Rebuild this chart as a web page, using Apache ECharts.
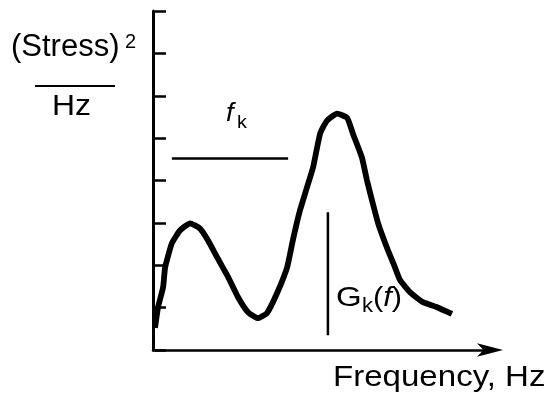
<!DOCTYPE html>
<html>
<head>
<meta charset="utf-8">
<style>html,body{margin:0;padding:0;background:#fff;}#c{width:549px;height:397px;}</style>
<script src="https://cdn.jsdelivr.net/npm/echarts@6/dist/echarts.min.js"></script>
</head>
<body>
<div id="c"></div>
<script>
// Spectrum curve (frequency in 0-100 units, PSD in tick units 0-8)
const freq = [0.6,1.5,3.0,3.6,5.6,8.0,11.0,13.9,16.3,19.0,22.3,25.2,28.2,31.2,33.8,36.8,39.8,41.5,43.6,45.7,47.5,49.6,51.6,54.6,57.6,59.3,62.0,63.5,65.0,66.8,69.4,71.8,73.3,76.3,80.1,84.3,88.7];
const psd  = [0.52,1.01,1.48,1.95,2.52,2.82,2.99,2.87,2.59,2.19,1.72,1.25,0.89,0.75,0.87,1.34,1.95,2.59,3.29,3.84,4.31,5.11,5.41,5.58,5.48,5.11,4.54,4.00,3.53,2.99,2.42,1.95,1.65,1.36,1.13,1.01,0.85];
// Band width f_k marker (horizontal) and G_k(f) marker (vertical)
const bandX = [5.6, 40.1];
const bandY = 4.52;
const gkX = 51.9;
const gkY = [0.35, 3.25];
const yTicks = [0, 8, 1]; // min, max, interval

const curveData = freq.map((f, i) => [f, psd[i]]);
const FONT = "'Liberation Sans', Arial, sans-serif";

const chart = echarts.init(document.getElementById('c'));
chart.setOption({
  animation: false,
  backgroundColor: '#fff',
  grid: { left: 153, right: 59, top: 11, bottom: 47 },
  xAxis: {
    type: 'value', min: 0, max: 100,
    axisLine: { show: true, symbol: ['none', 'arrow'], symbolSize: [10, 26], symbolOffset: [0, 13],
      lineStyle: { color: '#000', width: 2.5 } },
    axisTick: { show: false }, axisLabel: { show: false }, splitLine: { show: false }
  },
  yAxis: [
    {
      type: 'value', min: yTicks[0], max: yTicks[1], interval: yTicks[2],
      axisLine: { show: true, lineStyle: { color: '#000', width: 3 } },
      axisTick: { show: false }, axisLabel: { show: false }, splitLine: { show: false }
    },
    {
      type: 'value', position: 'left', offset: -2, min: yTicks[0], max: yTicks[1], interval: yTicks[2],
      axisLine: { show: false },
      axisTick: { show: true, inside: true, length: 11, lineStyle: { color: '#000', width: 2.5 } },
      axisLabel: { show: false }, splitLine: { show: false }
    }
  ],
  series: [
    {
      type: 'line', data: curveData, symbol: 'none', smooth: 0.15,
      lineStyle: { color: '#000', width: 5.8, join: 'bevel' }
    },
    {
      type: 'line', data: bandX.map(x => [x, bandY]), symbol: 'none',
      lineStyle: { color: '#000', width: 2.5 }
    },
    {
      type: 'line', data: gkY.map(y => [gkX, y]), symbol: 'none',
      lineStyle: { color: '#000', width: 2.5 }
    }
  ],
  graphic: [
    { type: 'text', x: 11, y: 47, style: { text: '(Stress)', font: '31px ' + FONT, fill: '#000', verticalAlign: 'middle' } },
    { type: 'text', x: 125, y: 42, style: { text: '2', font: '20px ' + FONT, fill: '#000', verticalAlign: 'middle' } },
    { type: 'line', shape: { x1: 35, y1: 86, x2: 115, y2: 86 }, style: { stroke: '#000', lineWidth: 2 } },
    { type: 'text', x: 52, y: 107, scaleX: 1.1, style: { text: 'Hz', font: '29px ' + FONT, fill: '#000', verticalAlign: 'middle' } },
    { type: 'text', x: 226, y: 114, scaleX: 1.1, style: { text: 'f', font: 'italic 25px ' + FONT, fill: '#000', verticalAlign: 'middle' } },
    { type: 'text', x: 237, y: 123, scaleX: 1.1, style: { text: 'k', font: '18px ' + FONT, fill: '#000', verticalAlign: 'middle' } },
    { type: 'text', x: 336, y: 298, scaleX: 1.18, style: { text: 'G', font: '28px ' + FONT, fill: '#000', verticalAlign: 'middle' } },
    { type: 'text', x: 362, y: 306, scaleX: 1.1, style: { text: 'k', font: '20px ' + FONT, fill: '#000', verticalAlign: 'middle' } },
    { type: 'text', x: 373, y: 298, scaleX: 1.1, style: { text: '{a|(}{b|f}{a|)}', fill: '#000', verticalAlign: 'middle',
        rich: { a: { font: '28px ' + FONT, fill: '#000' }, b: { font: 'italic 28px ' + FONT, fill: '#000' } } } },
    { type: 'text', x: 333, y: 378, scaleX: 1.14, style: { text: 'Frequency, Hz', font: '29px ' + FONT, fill: '#000', verticalAlign: 'middle' } }
  ]
});
</script>
</body>
</html>
